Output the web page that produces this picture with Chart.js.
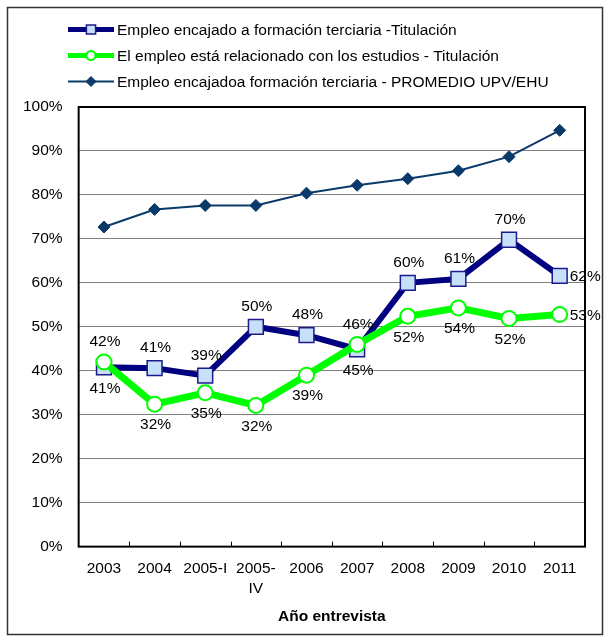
<!DOCTYPE html>
<html lang="es">
<head>
<meta charset="utf-8">
<title>Empleo encajado a formación terciaria</title>
<script src="https://cdn.jsdelivr.net/npm/chart.js@4.4.1/dist/chart.umd.min.js"></script>
<style>
  html, body { margin: 0; padding: 0; background: #fff; }
  #wrap { width: 610px; height: 642px; }
</style>
</head>
<body>
<div id="wrap"><canvas id="chart" width="610" height="642"></canvas></div>
<script>
// datos del gráfico
const years = ['2003', '2004', '2005-I', ['2005-', 'IV'], '2006', '2007', '2008', '2009', '2010', '2011'];
const encajadoTitulacion = [40.8, 40.6, 38.9, 50.0, 48.1, 44.9, 60.0, 60.9, 69.8, 61.6];
const relacionadoTitulacion = [42.0, 32.4, 35.0, 32.1, 39.0, 46.0, 52.4, 54.3, 51.9, 52.8];
const encajadoPromedio = [72.7, 76.7, 77.6, 77.6, 80.4, 82.2, 83.7, 85.5, 88.7, 94.7];
const seriesNames = [
    'Empleo encajado a formación terciaria -Titulación',
    'El empleo está relacionado con los estudios - Titulación',
    'Empleo encajadoa formación terciaria - PROMEDIO UPV/EHU'
];
const yMax = 100;
const yStep = 10;
const xTitle = 'Año entrevista';

const FONT = "'Liberation Sans', Arial, sans-serif";
const FS = 15.5;
Chart.defaults.font.family = FONT;
Chart.defaults.font.size = FS;
Chart.defaults.color = '#000';

/**
 * marco exterior, borde del área de trazado y marcas del eje X
 */
const framePlugin = {
    id: 'frame',
    beforeDraw(chart) {
        const ctx = chart.ctx;
        ctx.save();
        ctx.fillStyle = '#fff';
        ctx.fillRect(0, 0, chart.width, chart.height);
        ctx.strokeStyle = '#333';
        ctx.lineWidth = 1.5;
        ctx.strokeRect(7.5, 7.5, chart.width - 15, chart.height - 15);
        ctx.restore();
    },
    beforeDatasetsDraw(chart) {
        const ctx = chart.ctx;
        const a = chart.chartArea;
        const xs = chart.scales.x;
        ctx.save();
        ctx.strokeStyle = '#000';
        ctx.lineWidth = 1;
        // marcas interiores entre categorías
        for (let i = 0; i < years.length - 1; i++) {
            const px = Math.round((xs.getPixelForTick(i) + xs.getPixelForTick(i + 1)) / 2) + 0.5;
            ctx.beginPath();
            ctx.moveTo(px, a.bottom);
            ctx.lineTo(px, a.bottom - 5);
            ctx.stroke();
        }
        ctx.lineWidth = 2;
        ctx.strokeRect(a.left, a.top, a.right - a.left, a.bottom - a.top);
        ctx.restore();
    }
};

/**
 * etiquetas de porcentaje sobre los puntos
 */
const valueLabelsPlugin = {
    id: 'valueLabels',
    afterDatasetsDraw(chart, args, opts) {
        const ctx = chart.ctx;
        const ids = opts.datasets || [];
        ctx.save();
        ctx.font = FS + 'px ' + FONT;
        ctx.fillStyle = '#000';
        ids.forEach(di => {
            const other = ids.find(o => o !== di);
            const meta = chart.getDatasetMeta(di);
            const data = chart.data.datasets[di].data;
            meta.data.forEach((pt, j) => {
                const text = Math.round(data[j]) + '%';
                const last = j === data.length - 1;
                if (last) {
                    ctx.textAlign = 'left';
                    ctx.textBaseline = 'middle';
                    ctx.fillText(text, pt.x + 10, pt.y + 1);
                    return;
                }
                const above = other === undefined || data[j] >= chart.data.datasets[other].data[j];
                ctx.textAlign = 'center';
                ctx.textBaseline = 'middle';
                ctx.fillText(text, pt.x + 1, above ? pt.y - 20 : pt.y + 21);
            });
        });
        ctx.restore();
    }
};

/**
 * leyenda en tres filas con línea y marcador
 */
const lineLegendPlugin = {
    id: 'lineLegend',
    afterDraw(chart, args, opts) {
        const ctx = chart.ctx;
        const rows = opts.rows || [];
        ctx.save();
        chart.data.datasets.forEach((ds, i) => {
            const y = rows[i];
            const x0 = opts.x, x1 = opts.x + opts.lineLength;
            const cx = (x0 + x1) / 2;
            ctx.strokeStyle = ds.borderColor;
            ctx.lineWidth = ds.legendLineWidth || ds.borderWidth;
            ctx.beginPath();
            ctx.moveTo(x0, y);
            ctx.lineTo(x1, y);
            ctx.stroke();
            ctx.fillStyle = ds.pointBackgroundColor;
            ctx.strokeStyle = ds.pointBorderColor;
            ctx.lineWidth = ds.pointBorderWidth;
            Chart.helpers.drawPoint(ctx, {
                pointStyle: ds.pointStyle,
                radius: ds.legendPointRadius,
                rotation: 0,
                borderWidth: ds.pointBorderWidth
            }, cx, y);
            ctx.fillStyle = '#000';
            ctx.font = FS + 'px ' + FONT;
            ctx.textAlign = 'left';
            ctx.textBaseline = 'middle';
            ctx.fillText(ds.label, x1 + 3, y + 1);
        });
        ctx.restore();
    }
};

const ctx = document.getElementById('chart').getContext('2d');
new Chart(ctx, {
    type: 'line',
    data: {
        labels: years,
        datasets: [
            {
                label: seriesNames[0],
                data: encajadoTitulacion,
                borderColor: '#000080',
                borderWidth: 6,
                legendLineWidth: 5,
                pointStyle: 'rect',
                pointRadius: 10.5,
                legendPointRadius: 6.5,
                pointBackgroundColor: '#C6E0FA',
                pointBorderColor: '#1A1A8C',
                pointBorderWidth: 1.5,
                tension: 0,
                order: 1
            },
            {
                label: seriesNames[1],
                data: relacionadoTitulacion,
                borderColor: '#00FF00',
                borderWidth: 7,
                legendLineWidth: 5,
                pointStyle: 'circle',
                pointRadius: 7.5,
                legendPointRadius: 4.5,
                pointBackgroundColor: '#FFFFFF',
                pointBorderColor: '#00FF00',
                pointBorderWidth: 2,
                tension: 0,
                order: 0
            },
            {
                label: seriesNames[2],
                data: encajadoPromedio,
                borderColor: '#0A3A6A',
                borderWidth: 2,
                legendLineWidth: 2,
                pointStyle: 'rectRot',
                pointRadius: 6,
                legendPointRadius: 5,
                pointBackgroundColor: '#0A3A6A',
                pointBorderColor: '#0A3A6A',
                pointBorderWidth: 1,
                tension: 0,
                order: 2
            }
        ]
    },
    options: {
        responsive: false,
        animation: false,
        layout: {
            padding: { top: 107, left: 7, right: 25, bottom: 16 }
        },
        plugins: {
            legend: { display: false },
            tooltip: { enabled: false },
            valueLabels: { datasets: [0, 1] },
            lineLegend: { x: 68, lineLength: 46, rows: [29.5, 55.5, 81.5] }
        },
        scales: {
            x: {
                offset: true,
                grid: { display: false },
                border: { display: false },
                ticks: {
                    autoSkip: false,
                    maxRotation: 0,
                    padding: 4.7,
                    font: { size: FS, lineHeight: 1.27 }
                },
                title: {
                    display: true,
                    text: xTitle,
                    font: { size: FS, weight: 'bold' },
                    padding: { top: 4, bottom: 0 }
                }
            },
            y: {
                min: 0,
                max: yMax,
                grid: { color: '#808080', lineWidth: 1, drawTicks: false },
                border: { display: false },
                ticks: {
                    stepSize: yStep,
                    padding: 16,
                    callback: function(value) {
                        return value + '%';
                    }
                }
            }
        }
    },
    plugins: [framePlugin, valueLabelsPlugin, lineLegendPlugin]
});
</script>
</body>
</html>
